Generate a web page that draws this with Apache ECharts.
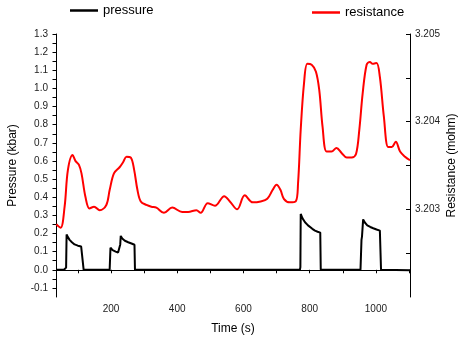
<!DOCTYPE html>
<html><head><meta charset="utf-8">
<script src="https://cdn.jsdelivr.net/npm/echarts@6/dist/echarts.min.js"></script>
<style>html,body{margin:0;padding:0;background:#fff}#c{width:461px;height:340px}</style>
</head><body><div id="c"></div>
<script>
// Time (s) / pressure (kbar)
const pressureTime  = [34, 58, 62, 64.5, 66, 70, 75, 82, 90, 100, 110, 116, 117.5, 196, 197, 198.5, 205, 214, 221.5, 226, 228, 229.5, 234, 242, 252, 262, 271, 272.5, 770.5, 772, 773, 778, 786, 795, 801, 808, 816, 824, 832, 833.5, 953.5, 955, 956.5, 958, 961.5, 966, 974, 983, 992, 1002, 1012, 1014, 1015.5, 1103];
const pressureValue = [0, 0, 0.005, 0.012, 0.195, 0.18, 0.165, 0.152, 0.14, 0.133, 0.128, 0.125, 0, 0, 0.005, 0.122, 0.108, 0.1, 0.095, 0.1, 0.14, 0.187, 0.172, 0.16, 0.152, 0.145, 0.138, 0, 0, 0.015, 0.308, 0.285, 0.262, 0.245, 0.235, 0.226, 0.216, 0.21, 0.205, 0, 0, 0.01, 0.165, 0.183, 0.278, 0.262, 0.245, 0.236, 0.229, 0.222, 0.216, 0.214, 0, -0.003];
// Time (s) / resistance (mohm)
const resistanceTime  = [35, 48, 60, 70, 84, 93, 103, 111, 123, 135, 149, 166, 186, 196, 209, 226, 237, 247, 260, 270, 280, 290, 307, 322, 337, 360, 385, 415, 433, 458, 471, 492, 514, 542, 559, 581, 604, 628, 652, 672, 688, 700, 712, 722, 740, 758, 765, 773, 783, 793, 806, 819, 829, 839, 851, 866, 881, 897, 912, 927, 940, 950, 960, 972, 982, 990, 1002, 1012, 1024, 1037, 1048, 1060, 1073, 1088, 1103];
const resistanceValue = [3.20283, 3.20279, 3.20303, 3.20345, 3.20362, 3.20355, 3.20351, 3.20341, 3.20314, 3.20301, 3.20303, 3.20299, 3.20305, 3.20322, 3.20341, 3.20348, 3.20354, 3.20360, 3.20359, 3.20345, 3.20322, 3.20309, 3.20305, 3.20303, 3.20302, 3.20296, 3.20302, 3.20297, 3.20297, 3.20299, 3.20296, 3.20307, 3.20304, 3.20315, 3.20309, 3.20300, 3.20316, 3.20308, 3.20309, 3.20312, 3.20322, 3.20328, 3.20322, 3.20312, 3.20308, 3.20309, 3.20330, 3.20391, 3.20444, 3.20466, 3.20465, 3.20457, 3.20436, 3.20394, 3.20366, 3.20366, 3.20370, 3.20364, 3.20359, 3.20359, 3.20363, 3.20391, 3.20432, 3.20465, 3.20468, 3.20466, 3.20467, 3.20451, 3.20406, 3.20371, 3.20371, 3.20377, 3.20366, 3.20360, 3.20356];
// Tick labels and tick positions
const xTickLabels = [200, 400, 600, 800, 1000];
const xAllTicks = [100, 200, 300, 400, 500, 600, 700, 800, 900, 1000, 1100];
const pTickLabels = [-0.1, 0.0, 0.1, 0.2, 0.3, 0.4, 0.5, 0.6, 0.7, 0.8, 0.9, 1.0, 1.1, 1.2, 1.3];
const pAllTicks = [-0.1, -0.05, 0.0, 0.05, 0.1, 0.15, 0.2, 0.25, 0.3, 0.35, 0.4, 0.45, 0.5, 0.55, 0.6, 0.65, 0.7, 0.75, 0.8, 0.85, 0.9, 0.95, 1.0, 1.05, 1.1, 1.15, 1.2, 1.25, 1.3];
const rTickLabels = [3.203, 3.204, 3.205];
const rAllTicks = [3.2025, 3.203, 3.2035, 3.204, 3.2045, 3.205];

const zip = (a, b) => a.map((v, i) => [v, b[i]]);
const FONT = 'Liberation Sans, Arial, sans-serif';
const X_MIN = 34, X_MAX = 1103, P_MIN = -0.15, P_MAX = 1.3, R_MIN = 3.202, R_MAX = 3.205;

const chart = echarts.init(document.getElementById('c'), null, {renderer: 'canvas'});
chart.setOption({
  animation: false,
  backgroundColor: '#fff',
  grid: {left: 56, right: 51, top: 34, bottom: 43, containLabel: false, outerBoundsMode: 'none'},
  legend: [
    {data: ['pressure'], left: 70, top: 4, padding: 0, icon: 'rect', itemWidth: 28, itemHeight: 2.5, itemGap: 4,
     textStyle: {fontFamily: FONT, fontSize: 13, color: '#000'}},
    {data: ['resistance'], left: 312, top: 6, padding: 0, icon: 'rect', itemWidth: 28, itemHeight: 2.5, itemGap: 4,
     textStyle: {fontFamily: FONT, fontSize: 13, color: '#000'}}
  ],
  xAxis: [
    {type: 'value', min: X_MIN, max: X_MAX, name: 'Time (s)', nameLocation: 'middle', nameGap: 26,
     nameTextStyle: {fontFamily: FONT, fontSize: 12, color: '#000'},
     axisLine: {show: true, lineStyle: {color: '#000', width: 1}},
     axisTick: {show: true, inside: false, length: 3.5, customValues: xAllTicks, lineStyle: {color: '#000'}},
     axisLabel: {customValues: xTickLabels, formatter: v => String(v), fontFamily: FONT, fontSize: 10, color: '#222', margin: 7},
     splitLine: {show: false}}
  ],
  yAxis: [
    {type: 'value', min: P_MIN, max: P_MAX, position: 'left', name: 'Pressure (kbar)', nameLocation: 'middle', nameGap: 37,
     nameTextStyle: {fontFamily: FONT, fontSize: 12, color: '#000'},
     axisLine: {show: true, lineStyle: {color: '#000', width: 1}},
     axisTick: {show: true, inside: false, length: 3.5, customValues: pAllTicks, lineStyle: {color: '#000'}},
     axisLabel: {customValues: pTickLabels, formatter: v => v.toFixed(1), fontFamily: FONT, fontSize: 10, color: '#222', margin: 8},
     splitLine: {show: false}},
    {type: 'value', min: R_MIN, max: R_MAX, position: 'right', name: 'Resistance (mohm)', nameLocation: 'middle', nameGap: 36,
     nameMoveOverlap: false,
     nameTextStyle: {fontFamily: FONT, fontSize: 12, color: '#000'},
     axisLine: {show: true, lineStyle: {color: '#000', width: 1}},
     axisTick: {show: true, inside: true, length: 4, customValues: rAllTicks, lineStyle: {color: '#000'}},
     axisLabel: {customValues: rTickLabels, formatter: v => v.toFixed(3), fontFamily: FONT, fontSize: 10, color: '#222', margin: 5},
     splitLine: {show: false}}
  ],
  series: [
    {name: 'pressure', type: 'line', xAxisIndex: 0, yAxisIndex: 0, data: zip(pressureTime, pressureValue),
     showSymbol: false, symbol: 'none', lineStyle: {color: '#000', width: 2}, itemStyle: {color: '#000'}, z: 3},
    {name: 'resistance', type: 'line', xAxisIndex: 0, yAxisIndex: 1, data: zip(resistanceTime, resistanceValue),
     showSymbol: false, symbol: 'none', smooth: 0.35, lineStyle: {color: '#ff0000', width: 2}, itemStyle: {color: '#ff0000'}, z: 2}
  ]
});
</script></body></html>
